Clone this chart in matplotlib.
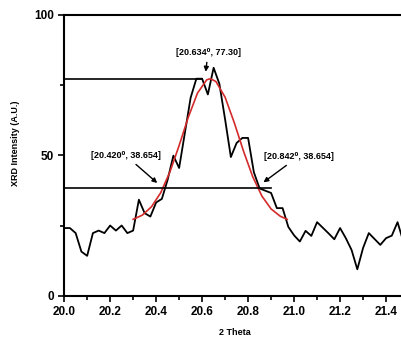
import matplotlib.pyplot as plt
import numpy as np

plt.rcParams['font.family'] = ['Liberation Sans', 'DejaVu Sans']
plt.rcParams['font.weight'] = 'bold'

# measured XRD pattern (2 theta step 0.025)
theta = np.arange(60) * 0.025 + 20.0
intensity = [24.1, 24.1, 22.3, 15.7, 14.2, 22.3, 23.2, 22.3, 25.0, 23.2,
             25.0, 22.3, 23.2, 34.2, 29.4, 28.2, 33.2, 34.5, 41.3, 49.9,
             45.5, 58.0, 70.5, 77.3, 77.3, 71.7, 81.2, 75.5, 62.8, 49.4,
             54.4, 56.2, 56.2, 44.0, 38.2, 37.4, 36.6, 31.2, 31.2, 24.5,
             21.5, 19.3, 23.1, 21.3, 26.2, 24.2, 22.2, 20.1, 24.1, 20.5,
             16.3, 9.4, 17.0, 22.3, 20.2, 18.1, 20.5, 21.4, 26.2, 19.3]

# fitted peak (red)
fit_x = [20.30, 20.34, 20.38, 20.42, 20.46, 20.50, 20.54, 20.58, 20.62,
         20.636, 20.66, 20.70, 20.74, 20.78, 20.82, 20.86, 20.90, 20.94, 20.97]
fit_y = [27.2, 28.7, 31.7, 36.7, 44.1, 53.5, 63.6, 72.2, 76.9,
         77.3, 76.3, 70.7, 61.6, 51.5, 42.4, 35.5, 30.9, 28.3, 27.2]

peak = (20.634, 77.30)
left_half = (20.420, 38.654)
right_half = (20.842, 38.654)

fig = plt.figure(figsize=(4.01, 3.4), dpi=100)
ax = fig.add_axes([0.16, 0.1303, 0.84, 0.8256])

ax.plot(theta, intensity, color='black', lw=1.3)
ax.plot(fit_x, fit_y, color='#d42a2a', lw=1.2)

ax.plot([20.0, 20.6], [peak[1], peak[1]], color='black', lw=1.2)
ax.plot([20.0, 20.9], [left_half[1] - 0.2, left_half[1] - 0.2], color='black', lw=1.2)

arrow = dict(arrowstyle='-|>', color='black', lw=1.0, mutation_scale=7)
ax.annotate('[20.634⁰, 77.30]', xy=(20.614, 78.8), xytext=(20.626, 86.7),
            ha='center', va='center', fontsize=6.5, fontweight='bold', arrowprops=arrow)
ax.annotate('[20.420⁰, 38.654]', xy=(20.414, 39.5), xytext=(20.267, 50.0),
            ha='center', va='center', fontsize=6.5, fontweight='bold', arrowprops=arrow)
ax.annotate('[20.842⁰, 38.654]', xy=(20.857, 39.8), xytext=(21.019, 49.6),
            ha='center', va='center', fontsize=6.5, fontweight='bold', arrowprops=arrow)

ax.set_xlim(20.0, 21.465)
ax.set_ylim(0, 100)
ax.set_xticks([20.0, 20.2, 20.4, 20.6, 20.8, 21.0, 21.2, 21.4])
ax.set_xticks(np.arange(20.1, 21.5, 0.2), minor=True)
ax.set_yticks([0, 50, 100])
ax.set_yticks([25, 75], minor=True)
ax.tick_params(which='both', direction='out', width=1.2, labelsize=8.5)
ax.tick_params(which='major', length=4)
ax.tick_params(which='minor', length=3)
for lab in ax.get_xticklabels() + ax.get_yticklabels():
    lab.set_fontweight('bold')

ax.spines['right'].set_visible(False)
for s in ['left', 'bottom', 'top']:
    ax.spines[s].set_linewidth(1.5)

ax.set_xlabel('2 Theta', fontsize=6.5, fontweight='bold')
ax.set_ylabel('XRD Intensity (A.U.)', fontsize=6.5, fontweight='bold')
ax.xaxis.set_label_coords(0.507, -0.115)
ax.yaxis.set_label_coords(-0.13, 0.544)

fig.savefig('out.png', dpi=100)
